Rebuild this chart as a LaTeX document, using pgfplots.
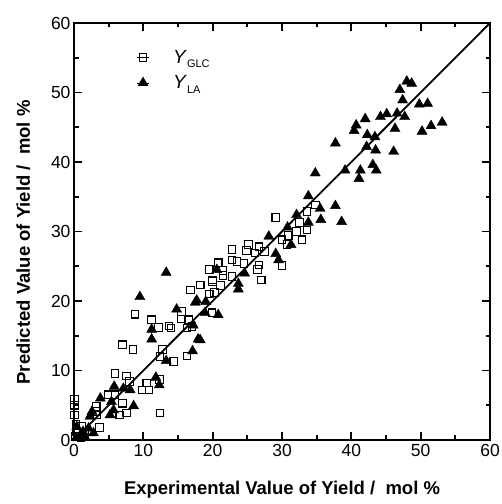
\documentclass[border=0pt]{standalone}
\usepackage{pgfplots}
\pgfplotsset{compat=1.18}
\usepackage{fontspec}
\setmainfont{Liberation Sans}
\usetikzlibrary{calc}
\begin{document}
\begin{tikzpicture}
\begin{axis}[
  scale only axis,
  width=416pt, height=417pt,
  xmin=0, xmax=60, ymin=0, ymax=60,
  xtick={0,10,...,60}, ytick={0,10,...,60},
  minor tick num=1,
  tick align=inside,
  major tick length=8pt, minor tick length=4.5pt,
  every tick/.style={black, line width=1.8pt},
  axis line style={line width=2.2pt},
  /pgf/number format/assume math mode=true,
  ticklabel style={font=\fontsize{17.5}{19}\selectfont},
  xticklabel style={yshift=-1pt},
  yticklabel style={xshift=0pt},
  xlabel={Experimental Value of Yield /\ \ mol \%},
  ylabel={Predicted Value of Yield /\ \ mol \%},
  label style={font=\fontsize{18.5}{21}\selectfont\bfseries},
  xlabel style={at={(axis description cs:0.5,-0.12)}, anchor=center},
  ylabel style={at={(axis description cs:-0.122,0.474)}, anchor=center, rotate=0},
  legend cell align=left,
  legend style={draw=none, fill=none, at={(axis description cs:0.151,0.94)}, anchor=north west,
    row sep=7pt, inner sep=0pt, outer sep=0pt},
  legend image code/.code={\path (0pt,0pt) -- (12pt,0pt); \draw[#1] plot coordinates {(6pt,0pt)};},
  /tikz/every odd column/.append style={column sep=22pt},
  clip=false,
]
\addplot[only marks, mark=square, mark size=3.8pt, mark options={line width=1.1pt, fill=white}, black] coordinates {
(29.1,32.0)
(25.2,28.1)(26.7,27.8)(24.9,27.3)(26.1,26.9)(27.5,27.1)
(22.8,27.4)(22.8,25.9)(23.5,25.7)(24.5,25.4)
(26.7,25.2)(26.5,24.5)(27.0,23.0)
(30.0,28.8)(30.9,29.4)(30.7,28.1)(30.0,25.1)
(34.8,33.8)(33.6,32.9)(32.5,31.3)(33.6,30.2)(32.1,30.0)(32.9,28.8)
(20.8,25.5)(19.5,24.5)(20.0,23.0)(21.5,23.7)(21.5,24.4)(22.8,23.5)(21.1,22.2)
(18.2,22.3)(16.8,21.6)(19.5,21.0)(20.3,21.2)(20.0,22.8)
(19.9,18.3)
(8.8,18.1)(11.2,17.3)(12.2,16.2)(13.7,16.4)(14.0,16.1)
(15.5,18.5)(15.5,17.4)(16.5,17.3)(16.3,16.1)(17.0,16.3)
(7.0,13.7)(8.5,13.0)(12.8,13.0)(12.4,12.0)(14.4,11.3)(16.3,12.1)
(5.9,9.6)(7.6,9.2)(8.0,8.4)(10.5,8.2)(9.8,7.2)(10.8,7.2)(12.3,8.7)
(4.9,6.5)(5.9,6.5)(7.0,5.3)(6.6,3.6)(7.6,3.9)(3.2,4.8)(3.2,4.1)(3.3,3.6)(12.4,3.9)
(0.1,5.8)(0.1,5.0)(0.1,3.6)(0.3,2.2)(1.1,2.0)(3.7,1.8)
(0.2,0.5)(0.5,1.0)(1.0,0.3)(1.5,0.8)(0.3,1.2)
};
\addlegendentry{{\fontsize{19}{21}\selectfont\textit{Y}}\raisebox{-4.5pt}{\fontsize{11}{12}\selectfont GLC}}
\addplot[only marks, mark=triangle*, mark size=5.8pt, black] coordinates {
(48.0,51.6)(48.7,51.3)(47.0,50.4)(47.4,48.9)(49.8,48.3)(51.0,48.4)
(44.2,46.5)(45.1,46.9)(46.6,47.0)(47.7,46.5)
(40.7,45.3)(42.0,46.2)(40.4,44.5)(46.3,44.8)
(50.2,44.4)(51.5,45.2)(53.1,45.7)
(37.7,42.7)(42.3,43.9)(43.4,43.6)(42.2,42.2)(43.5,41.7)(46.1,41.5)
(34.8,38.4)(39.1,38.8)(41.3,38.8)(41.1,37.6)(43.1,39.6)(43.6,38.8)
(33.8,35.1)(35.5,33.3)(37.7,33.7)(35.6,31.7)(38.6,31.4)(33.8,31.3)(32.1,32.4)
(30.8,30.6)(28.1,29.3)(31.3,28.1)(29.1,26.8)(29.5,25.9)
(24.6,24.0)(23.7,22.5)(23.7,21.7)(20.6,24.5)
(19.0,19.9)(18.9,18.3)(20.8,18.0)(17.5,19.8)(17.7,20.1)(14.8,18.8)
(18.2,14.4)(13.3,24.1)(9.5,20.6)
(11.2,15.9)(11.2,14.5)(17.2,16.5)(17.9,14.5)(17.1,12.8)(13.3,11.4)
(11.8,9.0)(12.3,7.9)(5.8,7.7)(7.1,7.4)(8.1,7.2)(3.8,6.0)
(5.4,5.5)(5.7,4.3)(5.2,3.6)(8.6,4.9)(2.3,3.4)(2.6,4.1)
(0.4,1.9)(1.3,1.2)(2.1,1.7)(2.8,1.0)(0.9,0.7)(0.3,0.3)(1.6,0.4)
};
\addlegendentry{{\fontsize{19}{21}\selectfont\textit{Y}}\raisebox{-4.5pt}{\fontsize{11}{12}\selectfont LA}}
\addplot[black, line width=1.8pt, no marks, forget plot] coordinates {(0,0) (60,60)};
\end{axis}
\pgfresetboundingbox
\path ($(current axis.south west)+(-74pt,-64pt)$) rectangle ($(current axis.north east)+(11pt,23pt)$);
\end{tikzpicture}
\end{document}
